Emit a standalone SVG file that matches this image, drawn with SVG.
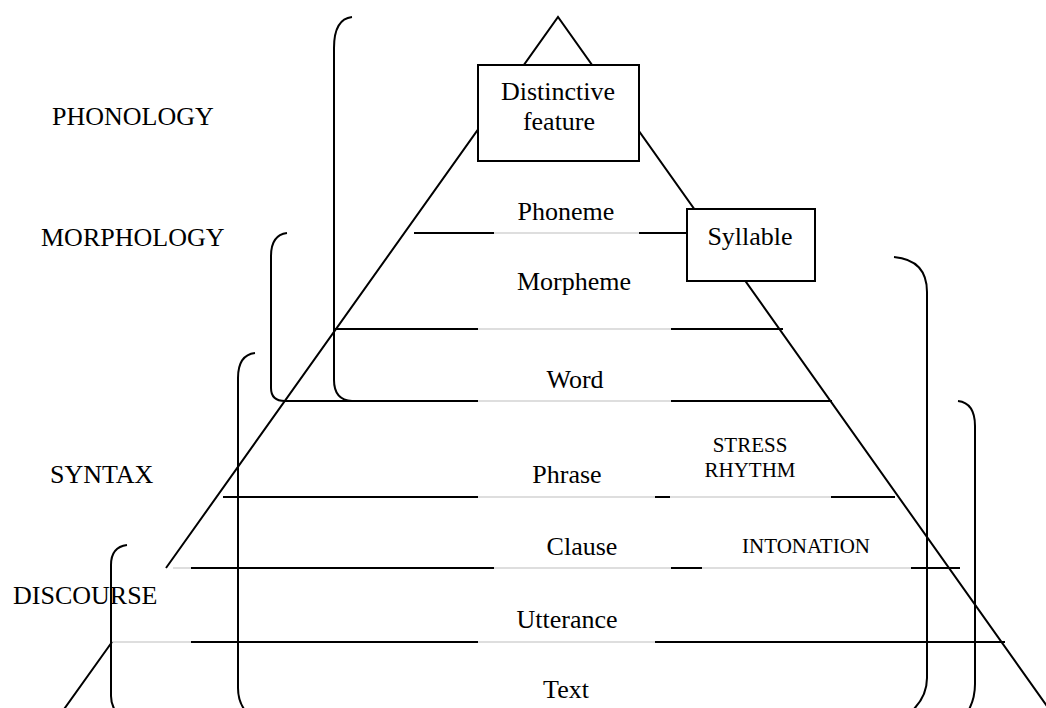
<svg xmlns="http://www.w3.org/2000/svg" width="1046" height="708" viewBox="0 0 1046 708">
<style>
.t{font-family:"Liberation Serif","Times New Roman",serif;font-size:26px;fill:#000}
.s{font-size:21px}
.m{text-anchor:middle}
.k{stroke:#000;stroke-width:2;fill:none}
.g{stroke:#bdbdbd;stroke-width:1.2;fill:none}
.box{fill:#fff;stroke:#000;stroke-width:2}
</style>
<rect width="1046" height="708" fill="#fff"/>
<g id="connectors">
  <path class="g" d="M494,233H639 M478,329H671 M478,401H671 M478,497H831 M173,568H911 M112,642H655"/>
  <path class="k" d="M414,233H494 M639,233H687 M335,329H478 M671,329H783 M285,401H478 M671,401H832 M223,497H478 M655,497H670 M831,497H895 M191,568H494 M671,568H702 M911,568H960 M191,642H478 M655,642H1005"/>
  <path class="k" d="M166,568 L558,17 L1054,716 M112,642 L62,712"/>
</g>
<g id="bracket-phonology"><path class="k" d="M352,17 Q334,19 334,48 L334,380 Q334,400 352,401"/></g>
<g id="bracket-morphology"><path class="k" d="M287,233 Q271,235 271,256 L271,388 Q271,401 285,401"/></g>
<g id="bracket-syntax"><path class="k" d="M255,353 Q238,355 238,378 L238,688 Q238,705 250,716"/></g>
<g id="bracket-discourse"><path class="k" d="M127,545 Q111,547 111,565 L111,696 Q111,708 120,716"/></g>
<g id="bracket-right-a"><path class="k" d="M894,257 Q927,260 927,292 L927,678 Q927,700 906,716"/></g>
<g id="bracket-right-b"><path class="k" d="M958,401 Q975,403 975,426 L975,684 Q975,702 965,716"/></g>
<g id="distinctive-feature">
  <rect class="box" x="478" y="65" width="161" height="96"/>
  <text class="t m" x="558" y="100">Distinctive</text>
  <text class="t m" x="559" y="130">feature</text>
</g>
<g id="syllable">
  <rect class="box" x="687" y="209" width="128" height="72"/>
  <text class="t m" x="750" y="245">Syllable</text>
</g>
<g id="label-phonology"><text class="t" x="52" y="125">PHONOLOGY</text></g>
<g id="label-morphology"><text class="t" x="41" y="246">MORPHOLOGY</text></g>
<g id="label-syntax"><text class="t" x="50" y="483">SYNTAX</text></g>
<g id="label-discourse"><text class="t" x="13" y="604">DISCOURSE</text></g>
<g id="phoneme"><text class="t m" x="566" y="220">Phoneme</text></g>
<g id="morpheme"><text class="t m" x="574" y="290">Morpheme</text></g>
<g id="word"><text class="t m" x="575" y="388">Word</text></g>
<g id="phrase"><text class="t m" x="567" y="483">Phrase</text></g>
<g id="stress-rhythm">
  <text class="t s m" x="750" y="452">STRESS</text>
  <text class="t s m" x="750" y="477">RHYTHM</text>
</g>
<g id="clause"><text class="t m" x="582" y="555">Clause</text></g>
<g id="intonation"><text class="t s m" x="806" y="553">INTONATION</text></g>
<g id="utterance"><text class="t m" x="567" y="628">Utterance</text></g>
<g id="text"><text class="t m" x="566" y="698">Text</text></g>
</svg>
